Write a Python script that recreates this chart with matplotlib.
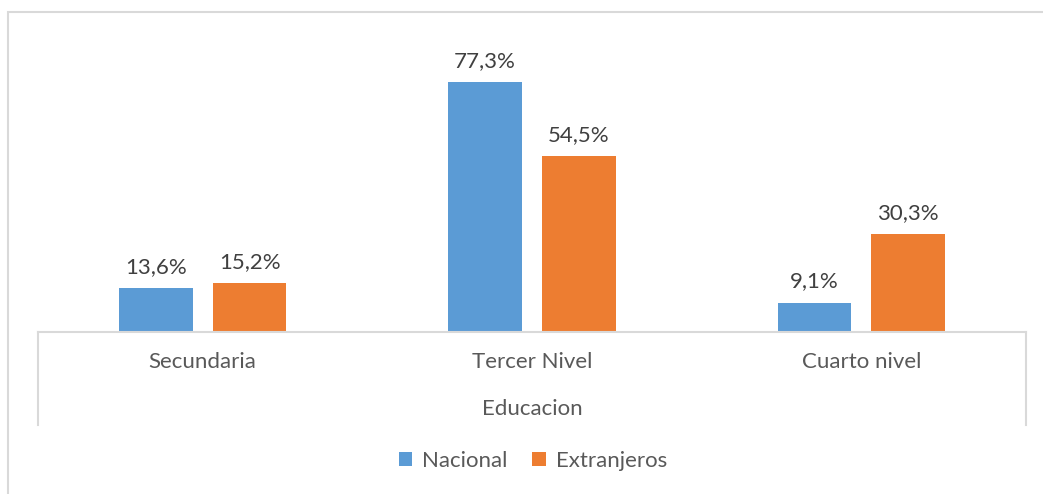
import matplotlib.pyplot as plt
import numpy as np
from matplotlib.patches import Rectangle
from matplotlib.lines import Line2D

# values (percent)
categories = ['Secundaria', 'Tercer Nivel', 'Cuarto nivel']
nacional = [13.6, 77.3, 9.1]
extranjeros = [15.2, 54.5, 30.3]
series_names = ['Nacional', 'Extranjeros']
axis_title = 'Educacion'

W, H = 1043, 494
plt.rcParams['font.family'] = ['Lato', 'DejaVu Sans']
FS = 16

fig = plt.figure(figsize=(W / 100, H / 100), dpi=100)

# outer chart border (cropped on right/bottom like the reference)
fig.add_artist(Rectangle((8 / W, -0.1), 1.2, (H - 12) / H + 0.1, transform=fig.transFigure,
                         fill=False, edgecolor='#d9d9d9', linewidth=1.5))

ax = fig.add_axes([38 / W, 162 / H, 988 / W, 291 / H])
x = np.arange(len(categories))
bw = 0.224
off = 0.1424
b1 = ax.bar(x - off, nacional, bw, color='#5B9BD5', label=series_names[0])
b2 = ax.bar(x + off, extranjeros, bw, color='#ED7D31', label=series_names[1])

def fmt(v):
    return f'{v:.1f}%'.replace('.', ',')

for bars in (b1, b2):
    ax.bar_label(bars, labels=[fmt(b.get_height()) for b in bars], padding=8,
                 fontsize=FS, color='#404040')

ax.set_xlim(-0.5, 2.5)
ax.set_ylim(0, 90)
ax.set_yticks([])
ax.set_xticks([])
for s in ['top', 'left', 'right']:
    ax.spines[s].set_visible(False)
ax.spines['bottom'].set_color('#d9d9d9')
ax.spines['bottom'].set_linewidth(1.5)

# category labels and axis title
for xi, c in zip(x, categories):
    ax.annotate(c, (xi, 0), xytext=(0, -30), textcoords='offset pixels',
                ha='center', va='center', fontsize=FS, color='#595959')
ax.annotate(axis_title, (1, 0), xytext=(0, -77), textcoords='offset pixels',
            ha='center', va='center', fontsize=FS, color='#595959')

# separators at the ends of the category axis
for xp in (38, 1026):
    fig.add_artist(Line2D([xp / W, xp / W], [(H - 332) / H, (H - 425) / H],
                          transform=fig.transFigure, color='#d9d9d9', linewidth=1.5))

fig.legend(handles=[b1, b2], loc='center', bbox_to_anchor=(533 / W, (H - 461) / H),
           ncol=2, frameon=False, fontsize=FS, labelcolor='#595959',
           handlelength=0.6, handleheight=0.6, handletextpad=0.45, columnspacing=1.1)

fig.savefig('out.png', dpi=100)
